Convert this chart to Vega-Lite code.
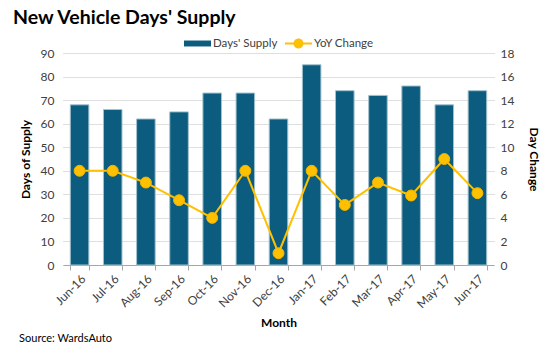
{
  "$schema": "https://vega.github.io/schema/vega-lite/v6.json",
  "background": "white",
  "padding": {"left": 13, "top": 7, "right": 5, "bottom": 5},
  "title": {"text": "New Vehicle Days' Supply", "anchor": "start", "frame": "bounds", "font": "Lato", "fontSize": 19.5, "fontWeight": "bold", "color": "#000000", "dx": -6, "offset": 2},
  "data": {"values": [
    {"month": "Jun-16", "supply": 68, "yoy": 8},
    {"month": "Jul-16", "supply": 66, "yoy": 8},
    {"month": "Aug-16", "supply": 62, "yoy": 7},
    {"month": "Sep-16", "supply": 65, "yoy": 5.5},
    {"month": "Oct-16", "supply": 73, "yoy": 4},
    {"month": "Nov-16", "supply": 73, "yoy": 8},
    {"month": "Dec-16", "supply": 62, "yoy": 1},
    {"month": "Jan-17", "supply": 85, "yoy": 8},
    {"month": "Feb-17", "supply": 74, "yoy": 5.1},
    {"month": "Mar-17", "supply": 72, "yoy": 7},
    {"month": "Apr-17", "supply": 76, "yoy": 5.9},
    {"month": "May-17", "supply": 68, "yoy": 9},
    {"month": "Jun-17", "supply": 74, "yoy": 6.1}
  ]},
  "vconcat": [{
    "width": 431,
    "height": 212,
    "title": {"text": "Source:  WardsAuto", "orient": "bottom", "anchor": "start", "frame": "bounds", "font": "Lato", "fontSize": 11, "fontWeight": "normal", "color": "#000000", "offset": 5},
    "encoding": {
      "x": {"field": "month", "type": "ordinal", "sort": null,
        "scale": {"paddingInner": 0.44, "paddingOuter": 0.22},
        "axis": {"title": "Month", "labelAngle": -45, "labelFontSize": 12, "labelColor": "#404040", "domainColor": "#a6a6a6", "tickColor": "#a6a6a6", "tickBand": "extent", "tickSize": 5, "labelPadding": 3, "titleFontSize": 12, "titleFontWeight": "bold", "titleColor": "#000000", "titlePadding": 7}
      }
    },
    "layer": [
      {
        "mark": {"type": "bar", "stroke": "#a3c2cf", "strokeWidth": 1},
        "encoding": {
          "y": {"field": "supply", "type": "quantitative", "scale": {"domain": [0, 90]},
            "axis": {"values": [0,10,20,30,40,50,60,70,80,90], "title": "Days of Supply", "grid": true, "gridDash": [1, 1], "gridColor": "#bfbfbf", "domain": false, "ticks": false, "labelPadding": 9, "labelFontSize": 12, "labelColor": "#404040", "titleFontSize": 12, "titleFontWeight": "bold", "titleColor": "#000000", "titlePadding": 8}
          },
          "color": {"datum": "Days' Supply", "type": "nominal",
            "scale": {"domain": ["Days' Supply", "YoY Change"], "range": ["#0b5c7e", "#ffc000"]},
            "legend": {"title": null, "orient": "top", "direction": "horizontal", "symbolSize": 729, "labelFontSize": 11.5, "labelColor": "#404040", "labelOffset": 2, "offset": -2, "columnPadding": 7,
              "encoding": {"symbols": {
                "shape": {"value": {"expr": "datum.value === 'YoY Change' ? 'M-1,-0.075H1V0.075H-1Z M0.37,0A0.37,0.37 0 1,1 -0.37,0A0.37,0.37 0 1,1 0.37,0Z' : 'M-1,-0.22H1V0.22H-1Z'"}},
                "fill": {"value": {"expr": "datum.value === 'YoY Change' ? '#ffc000' : '#0b5c7e'"}},
                "strokeWidth": {"value": 0}
              }}
            }
          }
        }
      },
      {
        "mark": {"type": "line", "strokeWidth": 2, "point": {"filled": true, "size": 120, "stroke": "#f2b600", "strokeWidth": 1}},
        "encoding": {
          "y": {"field": "yoy", "type": "quantitative", "scale": {"domain": [0, 18]},
            "axis": {"orient": "right", "values": [0,2,4,6,8,10,12,14,16,18], "title": "Day Change", "grid": false, "domain": false, "ticks": false, "labelPadding": 6, "labelFontSize": 12, "labelColor": "#404040", "titleFontSize": 12, "titleFontWeight": "bold", "titleColor": "#000000", "titlePadding": 13}
          },
          "color": {"datum": "YoY Change", "type": "nominal"}
        }
      }
    ],
    "resolve": {"scale": {"y": "independent"}}
  }],
  "config": {
    "font": "Lato",
    "view": {"stroke": null},
    "legend": {"layout": {"top": {"anchor": "middle"}}}
  }
}
